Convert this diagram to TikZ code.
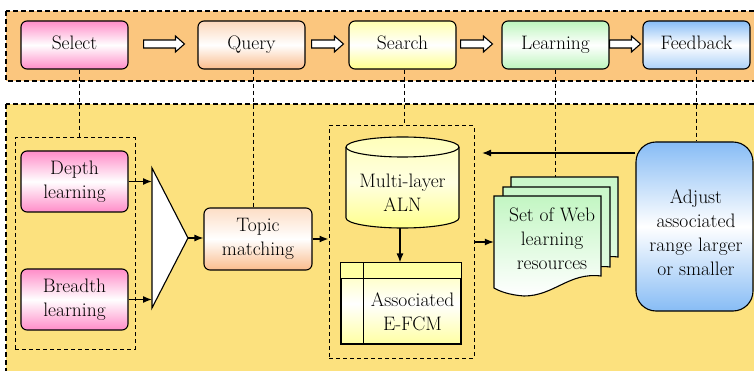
\documentclass[tikz,border=0pt]{standalone}
\usetikzlibrary{calc,arrows.meta}

\definecolor{bandorange}{RGB}{251,198,126}
\definecolor{bandyellow}{RGB}{252,225,126}
\definecolor{pinkc}{RGB}{255,140,200}
\definecolor{peachc}{RGB}{250,188,140}
\definecolor{yellowc}{RGB}{255,255,140}
\definecolor{greenc}{RGB}{188,245,188}
\definecolor{bluec}{RGB}{135,188,245}

% hollow block arrow between two points (same height)
\newcommand\hollowarr[2]{%
  \draw[hollow] let \p1=(#1), \p2=(#2) in
    (\x1,\y1-4pt) -- (\x2-9pt,\y1-4pt) -- (\x2-9pt,\y1-8pt) -- (\x2,\y1)
    -- (\x2-9pt,\y1+8pt) -- (\x2-9pt,\y1+4pt) -- (\x1,\y1+4pt) -- cycle;}

% one sheet of the document stack, top-left corner at #1
\newcommand\docsheet[2]{%
  \draw[line width=1.1pt,#2] (#1) -- ++(107,0) -- ++(0,-80)
    .. controls ++(-32,4) and ++(30,0) .. ++(-77,-20)
    .. controls ++(-15,1) and ++(5,-3) .. ++(-30,8) -- cycle;}

\begin{document}
\begin{tikzpicture}[x=1pt,y=1pt,
  txt/.style={font=\fontsize{19.5}{24}\selectfont, align=center, inner sep=0pt},
  box/.style={txt, draw, line width=1.1pt, rounded corners=6pt,
              minimum width=107pt, minimum height=48pt},
  step1/.style={box, text height=14pt, text depth=4pt},
  grp/.style={draw, line width=1pt, dash pattern=on 4pt off 3pt,
              minimum width=#1, inner sep=0pt},
  link/.style={line width=1pt, dash pattern=on 4pt off 3pt},
  arr/.style={line width=1.3pt, -{Latex[length=9pt,width=7pt]}},
  hollow/.style={line width=1.1pt, fill=white},
]
\useasboundingbox (0,0) rectangle (754,-371);

% background bands
\begin{scope}
  \clip (0,0) rectangle (754,-371);
  \draw[fill=bandorange, line width=1.1pt, dash pattern=on 5pt off 3pt]
    (6,-11) rectangle (770,-81);
  \draw[fill=bandyellow, line width=1.1pt, dash pattern=on 5pt off 3pt]
    (6,-104) rectangle (770,-390);
\end{scope}

% process steps
\node[step1, top color=pinkc, bottom color=pinkc, middle color=white]
  (select) at (74.5,-45) {Select};
\node[step1, top color=peachc!60, bottom color=peachc, middle color=white]
  (query) at (251.5,-45) {Query};
\node[step1, top color=yellowc!70, bottom color=yellowc, middle color=white]
  (search) at (402.5,-45) {Search};
\node[step1, top color=greenc, bottom color=greenc, middle color=white]
  (learning) at (555.5,-45) {Learning};
\node[step1, top color=bluec, bottom color=bluec!70, middle color=white]
  (feedback) at (696.5,-45) {Feedback};

\hollowarr{$(select.east)+(15,1)$}{$(query.west)+(-13,1)$}
\hollowarr{$(query.east)+(6,1)$}{$(search.west)+(-5,1)$}
\hollowarr{$(search.east)+(4,1)$}{$(learning.west)+(-9,1)$}
\hollowarr{$(learning.east)+(0,1)$}{$(feedback.west)+(-2,1)$}

% groups
\node[grp=120pt, minimum height=211pt] (grp1) at (75,-243.5) {};
\node[grp=145pt, minimum height=232pt] (grp2) at (401.5,-242) {};

% learning modes
\node[box, minimum height=61pt, top color=pinkc, bottom color=pinkc, middle color=white]
  (depth) at (74.5,-181.5) {Depth\\learning};
\node[box, minimum height=61pt, top color=pinkc, bottom color=pinkc, middle color=white]
  (breadth) at (74.5,-299.5) {Breadth\\learning};

% merging funnel
\draw[line width=1.1pt, fill=white] (152,-168) -- (188,-238) -- (152,-308) -- cycle;
\coordinate (fin1) at (152,-181.5);
\coordinate (fin2) at (152,-299.5);
\coordinate (fapex) at (188,-238);

\node[box, minimum width=108pt, minimum height=62pt,
      top color=peachc!50, bottom color=peachc, middle color=white]
  (topic) at (258,-239) {Topic\\matching};

% multi-layer ALN (cylinder)
\draw[line width=1.1pt, top color=yellowc!60, bottom color=yellowc, middle color=yellowc!25]
  (346,-147) -- (346,-218) arc (180:360:56.5 and 10) -- (459,-147)
  arc (0:180:56.5 and 10) -- cycle;
\draw[line width=1.1pt] (346,-147) arc (180:360:56.5 and 10);
\node[txt] (aln) at (402.5,-193) {Multi-layer\\ALN};
\coordinate (alnbot) at (400,-228);

% associated E-FCM (table)
\node[draw, line width=1.1pt, minimum width=120pt, minimum height=81pt, inner sep=0pt,
      top color=yellowc!70, bottom color=yellowc!80, middle color=white]
  (table) at (401,-303.5) {};
\fill[yellowc!80] (table.north west) rectangle ($(table.north east)+(0,-16)$);
\draw[line width=1.1pt] (table.north west) rectangle (table.south east);
\draw[line width=1.8pt] ($(table.north west)+(0,-16)$) -- ($(table.north east)+(0,-16)$);
\draw[line width=1.1pt] ($(table.north west)+(23,0)$) -- ($(table.south west)+(23,0)$);
\node[txt] (efcm) at (412.5,-311.5) {Associated\\E-FCM};

% web resources (document stack)
\docsheet{511,-177}{top color=greenc!80, bottom color=greenc!40}
\docsheet{503,-187}{top color=greenc!80, bottom color=greenc!40}
\docsheet{494,-196}{top color=greenc!90, bottom color=white}
\node[minimum width=107pt, minimum height=92pt, inner sep=0pt] (doc) at (547.5,-242) {};
\node[txt] (doctext) at (552,-238.5) {Set of Web\\learning\\resources};
\coordinate (doctop) at (555.5,-177);

% adjustment step
\node[draw, line width=1.1pt, rounded corners=20pt, minimum width=117pt,
      minimum height=169pt, inner sep=0pt,
      top color=bluec, bottom color=bluec, middle color=white]
  (adjust) at (694.5,-226.5) {};
\node[txt] (adjtext) at (696,-233) {Adjust\\associated\\range larger\\or smaller};
\coordinate (fbend) at (482,-153);

% dashed links from the steps
\draw[link] ($(select.south)+(4.5,0)$) -- ($(select.south |- grp1.north)+(4.5,0)$);
\draw[link] ($(query.south)+(1.5,0)$) -- ($(query.south |- topic.north)+(1.5,0)$);
\draw[link] ($(search.south)+(1.5,0)$) -- ($(search.south |- grp2.north)+(1.5,0)$);
\draw[link] (learning.south) -- (doctop);
\draw[link] (feedback.south) -- (feedback.south |- adjust.north);

% data flow
\draw[arr] (depth.east) -- (fin1);
\draw[arr] (breadth.east) -- (fin2);
\draw[arr] (fapex) -- (topic.west |- fapex);
\draw[arr] (topic.east) -- (topic.east -| grp2.west);
\draw[arr] (alnbot) -- (alnbot |- table.north);
\draw[arr] (grp2.east) -- (grp2.east -| doc.west);
\draw[arr] (adjust.west |- fbend) -- (fbend);
\end{tikzpicture}
\end{document}
